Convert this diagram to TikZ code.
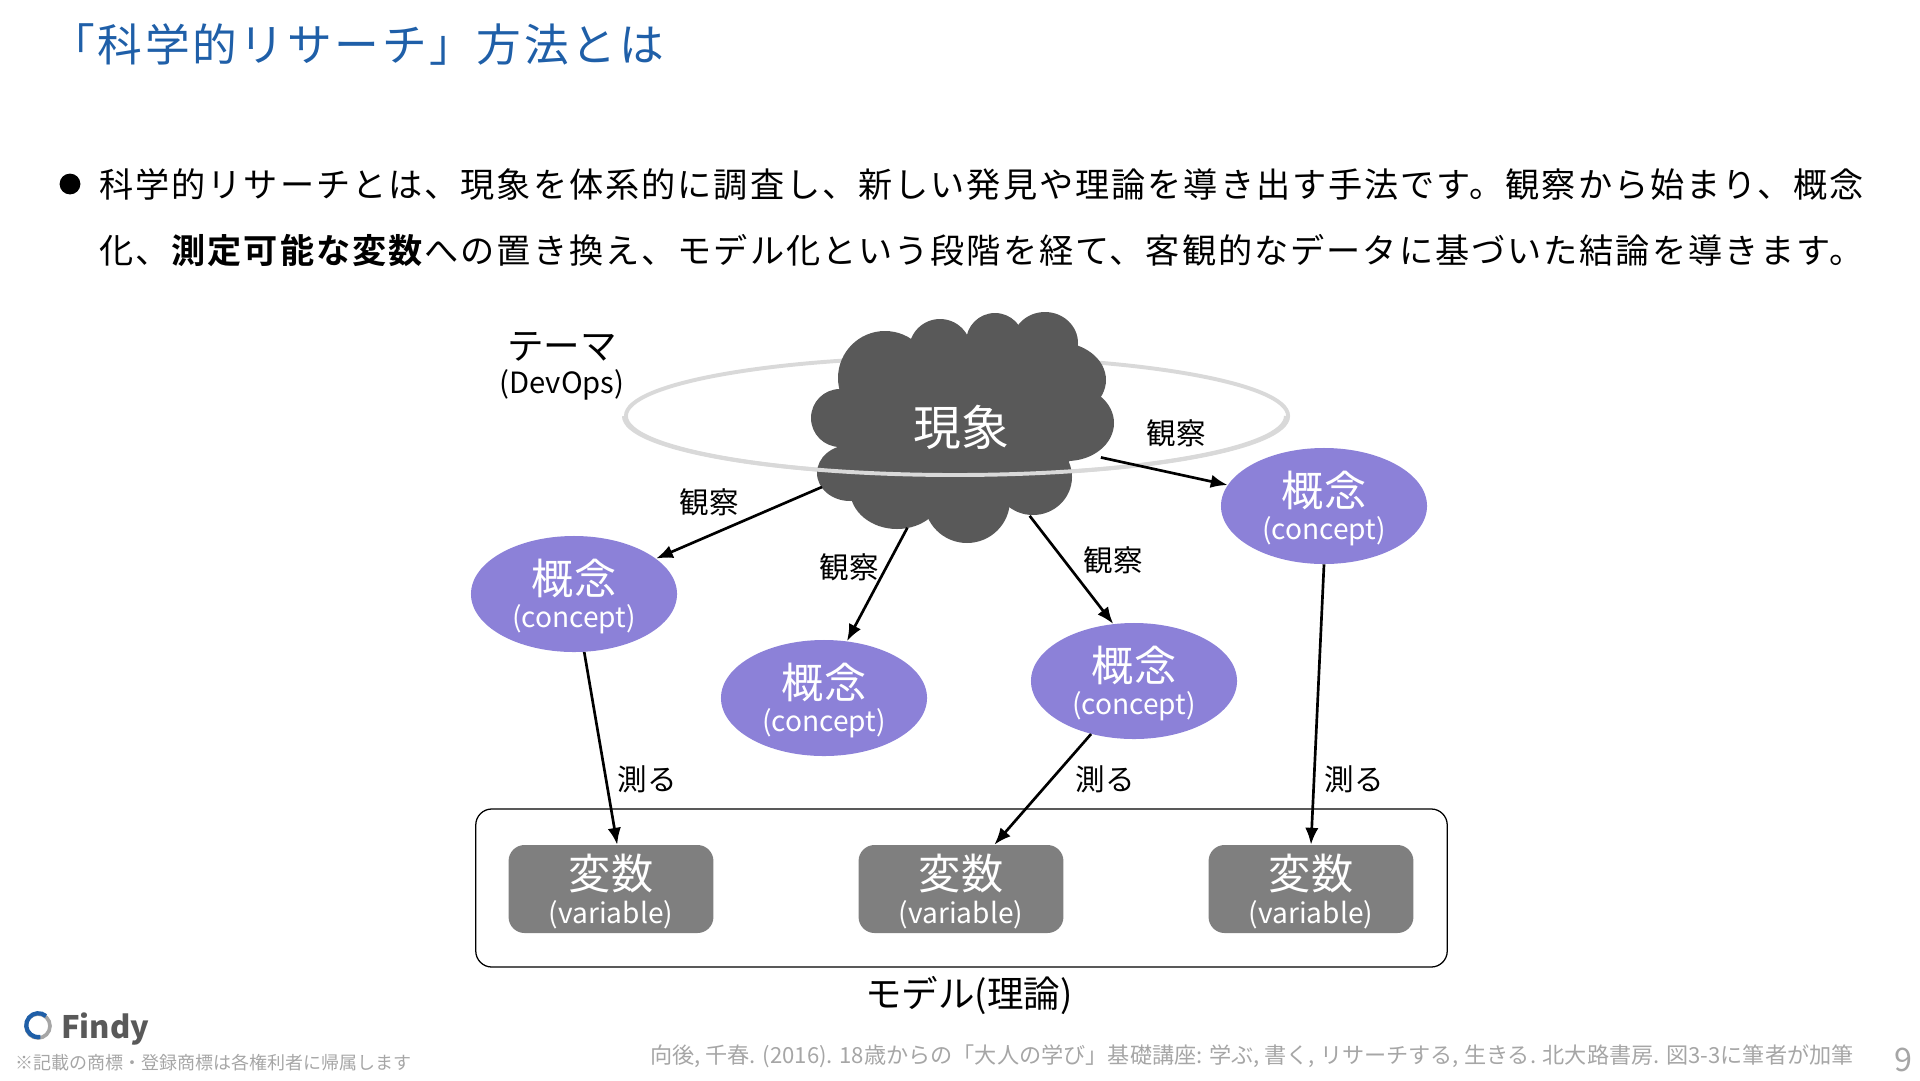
\documentclass[tikz,border=0pt]{standalone}
\usepackage{fontspec}
\setmainfont{Noto Sans CJK JP}
\newfontfamily\jptitle[LetterSpace=6]{Noto Sans CJK JP}
\newfontfamily\jpbody[LetterSpace=5.8,BoldFont={Noto Sans CJK JP Bold}]{Noto Sans CJK JP}
\usetikzlibrary{positioning,arrows.meta,shapes,calc}
\definecolor{titleblue}{HTML}{1F5FA8}
\definecolor{cloudgrey}{HTML}{595959}
\definecolor{conceptpurple}{HTML}{8C81D8}
\definecolor{variablegrey}{HTML}{7F7F7F}
\definecolor{themegrey}{HTML}{D9D9D9}
\definecolor{notegrey}{HTML}{A6A6A6}
\newcommand{\twolines}[2]{\rule{0pt}{29pt}{\fontsize{30}{36}\selectfont #1}\\[4pt]{\fontsize{20}{24}\selectfont #2}}
\tikzset{
    bigtext/.style={font=\fontsize{34}{36}\selectfont},
    conceptnode/.style={ellipse, fill=conceptpurple, text=white, minimum width=5.15cm, minimum height=2.9cm, inner sep=-6pt, align=center},
    varbox/.style={rectangle, rounded corners=0.4cm, fill=variablegrey, text=white, minimum width=5.12cm, minimum height=2.2cm, inner sep=0pt, align=center},
    observe/.style={font=\fontsize{21}{24}\selectfont},
    conn/.style={-{Latex[length=12pt,width=9.5pt]}, line width=1.9pt, black},
    themeline/.style={line width=2.8pt, themegrey},
}
\begin{document}
\begin{tikzpicture}[x=0.025cm, y=-0.025cm]
    \useasboundingbox (0,0) rectangle (1920,1080);
    %
    \node[anchor=west, inner sep=0pt, text=titleblue, font=\fontsize{31.8}{34}\selectfont\jptitle] (vTitle) at (50,45) {「科学的リサーチ」方法とは};
    %
    \node[circle, fill=black, minimum size=0.52cm, inner sep=0pt] (vBullet) at (70,184) {};
    \node[anchor=west, inner sep=0pt, font=\fontsize{24.3}{28}\selectfont\jpbody] (vLineA) at (99,185) {科学的リサーチとは、現象を体系的に調査し、新しい発見や理論を導き出す手法です。観察から始まり、概念};
    \node[anchor=west, inner sep=0pt, font=\fontsize{24.3}{28}\selectfont\jpbody] (vLineB) at (99,251) {化、\textbf{測定可能な変数}への置き換え、モデル化という段階を経て、客観的なデータに基づいた結論を導きます。};
    %
    \node[ellipse, draw=themegrey, line width=2.8pt, minimum width=16.55cm, minimum height=2.95cm, inner sep=0pt] (vTheme) at (957,416) {};
    %
    \foreach \cx/\cy/\rx/\ry in {965/420/125/75, 885/378/47/47, 940/350/31/31, 995/342/29/29, 1045/343/33/31,
        1057/380/49/38, 1067/423/47/38, 840/418/29/29, 850/473/33/28, 897/490/47/39, 967/500/43/43, 1033/477/39/38}
    \fill[cloudgrey] (\cx,\cy) ellipse [x radius=\rx, y radius=\ry];
    \node[ellipse, text=white, bigtext, minimum width=8.4cm, minimum height=5.3cm, inner sep=0pt] (vCloud) at (961,427) {現象};
    \draw[themeline] (vTheme.west) arc [start angle=180, end angle=0, x radius=331, y radius=59];
    %
    \node[conceptnode] (vConA) at (574,594) {\twolines{概念}{(concept)}};
    \node[conceptnode] (vConB) at (824,698) {\twolines{概念}{(concept)}};
    \node[conceptnode] (vConC) at (1134,681) {\twolines{概念}{(concept)}};
    \node[conceptnode] (vConD) at (1324,506) {\twolines{概念}{(concept)}};
    %
    \node[draw=black, line width=0.9pt, rounded corners=0.4cm, minimum width=24.28cm, minimum height=3.95cm, inner sep=0pt] (vModel) at (961.5,888) {};
    \node[varbox] (vVarA) at (611,889) {\twolines{変数}{(variable)}};
    \node[varbox] (vVarB) at (961,889) {\twolines{変数}{(variable)}};
    \node[varbox] (vVarC) at (1311,889) {\twolines{変数}{(variable)}};
    %
    \draw[conn] (vCloud) -- (vConA);
    \draw[conn] (vCloud) -- (vConB.68);
    \draw[conn, shorten <=-6pt] (vCloud) -- (vConC.110);
    \draw[conn, shorten <=-14pt] (vCloud) -- (vConD);
    \draw[conn] (vConA.-80) -- (vVarA.82);
    \draw[conn] (vConC.-129) -- (vVarB.53);
    \draw[conn] (vConD.south) -- (vVarC.north);
    %
    \node[observe] (vObsA) at (709,502) {観察};
    \node[observe] (vObsB) at (849,567) {観察};
    \node[observe] (vObsC) at (1113,560) {観察};
    \node[observe] (vObsD) at (1176,433) {観察};
    \node[observe] (vMesA) at (647,779) {測る};
    \node[observe] (vMesB) at (1105,779) {測る};
    \node[observe] (vMesC) at (1354,779) {測る};
    %
    \node[font=\fontsize{26}{28}\selectfont] (vThemeA) at (562,347) {テーマ};
    \node[font=\fontsize{20.8}{24}\selectfont] (vThemeB) at (562,385) {(DevOps)};
    \node[font=\fontsize{26}{28}\selectfont] (vModelName) at (969,995) {モデル(理論)};
    %
    \node[anchor=west, inner sep=0pt, text=notegrey, font=\fontsize{15.75}{18}\selectfont] (vSource) at (650,1056) {向後, 千春. (2016). 18歳からの「大人の学び」基礎講座: 学ぶ, 書く, リサーチする, 生きる. 北大路書房. 図3-3に筆者が加筆};
    \node[text=notegrey, font=\fontsize{23}{26}\selectfont] (vPage) at (1903,1060) {9};
    %
    \draw[line width=2.6pt, notegrey] (38,1026) circle (12);
    \draw[line width=3pt, titleblue] (46,1016) arc [start angle=-50, end angle=-280, radius=12];
    \node[anchor=west, inner sep=0pt, text=cloudgrey, font=\fontsize{22}{26}\selectfont\bfseries] (vFindy) at (61,1029) {Findy};
    \node[anchor=west, inner sep=0pt, text=notegrey, font=\fontsize{12.8}{15}\selectfont] (vNote) at (15,1063) {※記載の商標・登録商標は各権利者に帰属します};
\end{tikzpicture}
\end{document}
